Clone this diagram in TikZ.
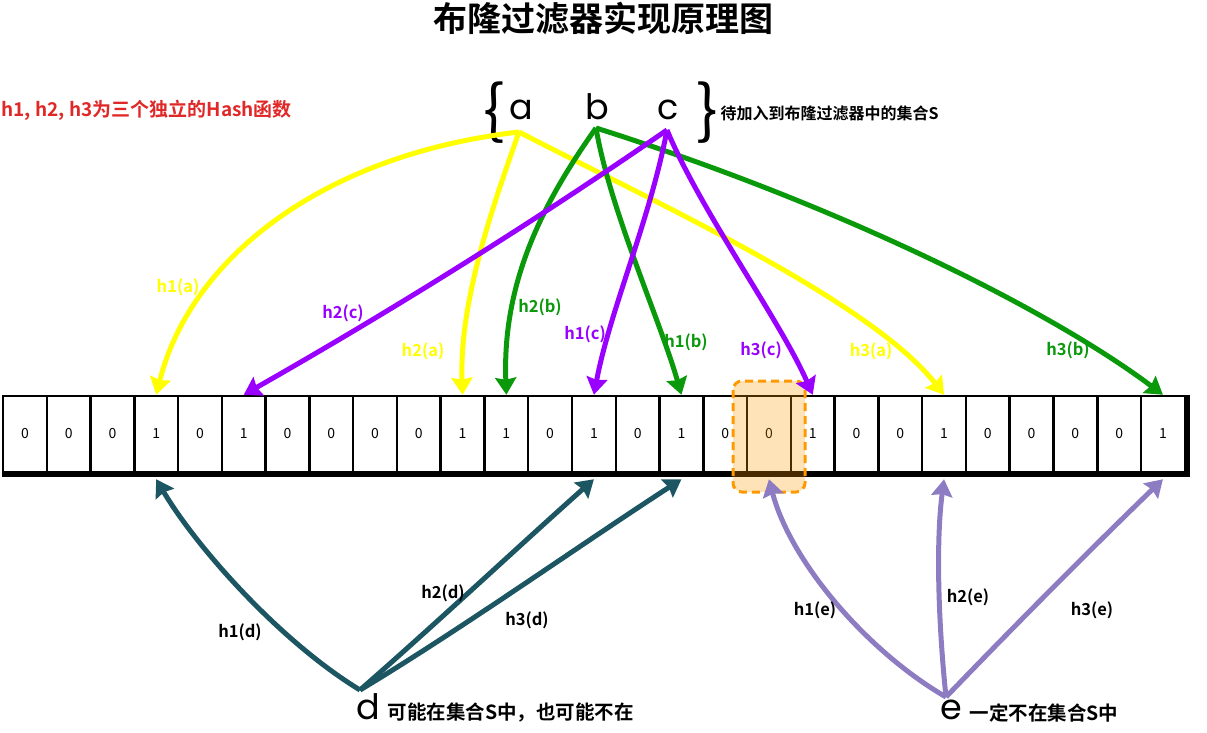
\documentclass[tikz,border=0pt]{standalone}
\usepackage{fontspec}
\setmainfont{Noto Sans CJK SC}
\newfontfamily\cjkb{Noto Sans CJK SC Bold}
\newfontfamily\geo{Poppins}
\usetikzlibrary{arrows.meta}
\definecolor{hy}{HTML}{FFFF00}
\definecolor{hg}{HTML}{0A990A}
\definecolor{hp}{HTML}{9900FF}
\definecolor{ht}{HTML}{1B5662}
\definecolor{hl}{HTML}{8E7CC3}
\definecolor{hr}{HTML}{E02828}
\definecolor{ho}{HTML}{FF9900}
\tikzset{
  cellbox/.style={draw=black, line width=2.5pt, minimum width=43.77pt, minimum height=76pt, inner sep=0pt, font=\fontsize{14}{15}\selectfont},
  arr/.style={line width=5pt, -{Stealth[length=17pt,width=21pt,inset=2pt]}},
  lab/.style={font=\cjkb\fontsize{16.5}{18}\selectfont},
  letter/.style={font=\geo\fontsize{35}{38}\selectfont, anchor=base},
}
\begin{document}
\begin{tikzpicture}[x=1pt,y=-1pt]
\useasboundingbox (0,0) rectangle (1207,733);
% title and notes
\node[font=\cjkb\fontsize{34}{38}\selectfont] (title) at (603,19) {布隆过滤器实现原理图};
\node[anchor=west, text=hr, font=\cjkb\fontsize{19}{21}\selectfont] (hint) at (-2,110) {h1, h2, h3为三个独立的Hash函数};
% set S
\node[font=\fontsize{64}{64}\selectfont] (lb) at (494,113) {\{};
\node[font=\fontsize{64}{64}\selectfont] (rb) at (707,113) {\}};
\node[letter] (a) at (521,120) {a};
\node[letter] (b) at (597,120) {b};
\node[letter] (c) at (668,120) {c};
\node[anchor=west, font=\cjkb\fontsize{16}{18}\selectfont] (setlbl) at (717,113) {待加入到布隆过滤器中的集合S};
\coordinate (A) at (519,132);
\coordinate (B) at (596,128);
\coordinate (C) at (667,130);
% bit array
\foreach \v [count=\i] in {0,0,0,1,0,1,0,0,0,0,1,1,0,1,0,1,0,0,1,0,0,1,0,0,0,0,1} {
  \node[cellbox] (c\i) at ({3+43.77*(\i-0.5)},434) {\v};
}
\draw[line width=4pt] ([yshift=-2pt]c1.south west) -- ([yshift=-2pt,xshift=2pt]c27.south east) -- ([xshift=2pt]c27.north east);
% highlight
\draw[ho, line width=3pt, dash pattern=on 8pt off 5pt, fill=ho, fill opacity=0.28, rounded corners=9pt] (733,381) rectangle (805,492);
% arrows from a
\draw[arr, hy] (A) .. controls (320,155) and (190,260) .. (c4.north);
\draw[arr, hy] (A) .. controls (495,200) and (459,300) .. (c11.north);
\draw[arr, hy] (A) .. controls (650,200) and (870,300) .. (c22.north);
% arrows from b
\draw[arr, hg] (B) .. controls (545,200) and (502,280) .. (c12.north);
\draw[arr, hg] (B) .. controls (610,210) and (660,320) .. (c16.north);
\draw[arr, hg] (B) .. controls (840,205) and (1050,310) .. (c27.north);
% arrows from c
\draw[arr, hp] (C) .. controls (525,228) and (384,315) .. (c6.north);
\draw[arr, hp] (C) .. controls (650,220) and (610,310) .. (c14.north);
\draw[arr, hp] (C) .. controls (700,210) and (780,320) .. (c19.north);
% top labels
\node[lab, text=hy] (l1a) at (178,287) {h1(a)};
\node[lab, text=hp] (l2c) at (343,313) {h2(c)};
\node[lab, text=hy] (l2a) at (423,351) {h2(a)};
\node[lab, text=hg] (l2b) at (540,307) {h2(b)};
\node[lab, text=hp] (l1c) at (585,334) {h1(c)};
\node[lab, text=hg] (l1b) at (686,342) {h1(b)};
\node[lab, text=hp] (l3c) at (761,350) {h3(c)};
\node[lab, text=hy] (l3a) at (871,351) {h3(a)};
\node[lab, text=hg] (l3b) at (1068,350) {h3(b)};
% d
\node[letter] (d) at (368,719) {d};
\node[anchor=west, font=\cjkb\fontsize{19.5}{21}\selectfont] (dtxt) at (384,713) {可能在集合S中，也可能不在};
\coordinate (D) at (360,690);
\draw[arr, ht] (D) .. controls (278,640) and (195,545) .. ([yshift=-6pt]c4.south);
\draw[arr, ht] (D) .. controls (440,620) and (520,545) .. ([yshift=-6pt]c14.south);
\draw[arr, ht] (D) .. controls (460,630) and (580,545) .. ([yshift=-6pt]c16.south);
\node[lab] (l1d) at (240,632) {h1(d)};
\node[lab] (l2d) at (443,593) {h2(d)};
\node[lab] (l3d) at (527,620) {h3(d)};
% e
\node[letter] (e) at (951,719) {e};
\node[anchor=west, font=\cjkb\fontsize{19.5}{21}\selectfont] (etxt) at (966,713) {一定不在集合S中};
\coordinate (E) at (946,697);
\draw[arr, hl] (E) .. controls (865,650) and (790,560) .. ([yshift=-6pt]c18.south);
\draw[arr, hl] (E) .. controls (938,620) and (936,540) .. ([yshift=-6pt]c22.south);
\draw[arr, hl] (E) .. controls (1020,620) and (1100,540) .. ([yshift=-6pt]c27.south);
\node[lab] (l1e) at (815,610) {h1(e)};
\node[lab] (l2e) at (968,597) {h2(e)};
\node[lab] (l3e) at (1092,610) {h3(e)};
\end{tikzpicture}
\end{document}
